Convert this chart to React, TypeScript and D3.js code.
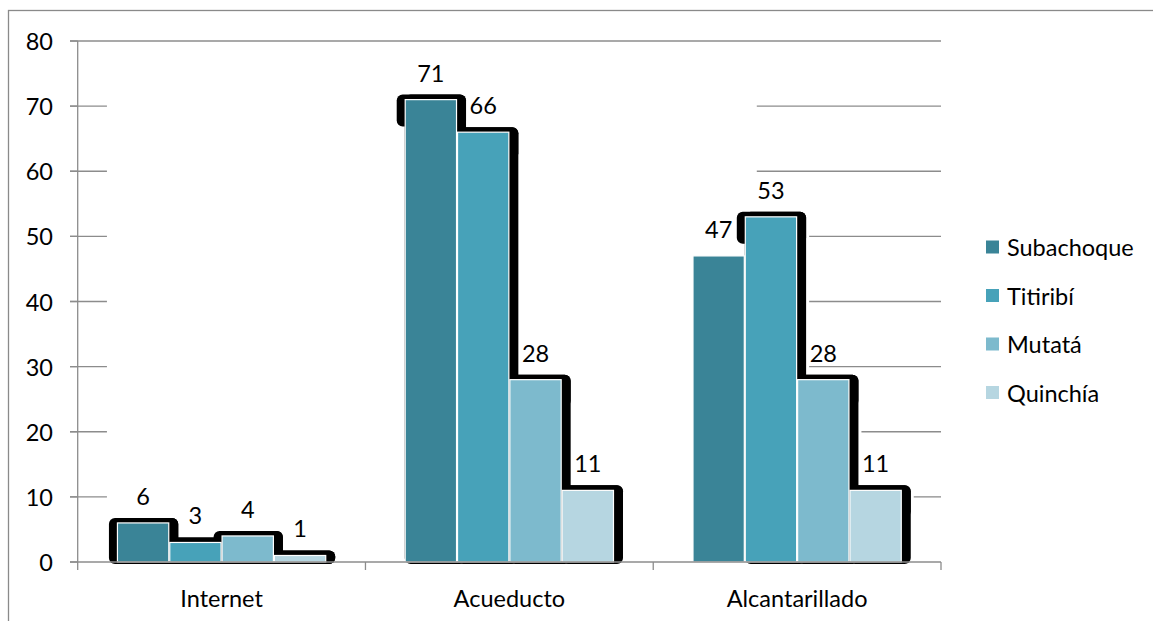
import React from "react";
import * as d3 from "d3";

const categories = ["Internet", "Acueducto", "Alcantarillado"];
const seriesNames = ["Subachoque", "Titiribí", "Mutatá", "Quinchía"];
const subachoque = [6, 71, 47];
const titiribi = [3, 66, 53];
const mutata = [4, 28, 28];
const quinchia = [1, 11, 11];
const yTicks = [0, 10, 20, 30, 40, 50, 60, 70, 80];
const colors = ["#3a8497", "#47a2b9", "#7dbacd", "#b6d6e1"];

// bars whose shadow does not show in the original
const noShadow = [["Alcantarillado", "Subachoque"]];
// where each gridline shows again on the right after the hidden stretch
const gridResume = [
  [70, "Alcantarillado", "Subachoque"],
  [60, "Alcantarillado", "Subachoque"],
  [50, "Alcantarillado", "Titiribí"],
  [40, "Alcantarillado", "Titiribí"],
  [30, "Alcantarillado", "Titiribí"],
  [20, "Alcantarillado", "Mutatá"],
  [10, "Alcantarillado", "Quinchía"],
];

const FONT = "Lato, 'Open Sans', sans-serif";
const FS = 23.5;

export default function App() {
  const width = 1153;
  const height = 621;
  const left = 77.7;
  const right = 941;
  const top = 41;
  const bottom = 562;

  const values = [subachoque, titiribi, mutata, quinchia];

  const x0 = d3.scaleBand().domain(categories).range([left, right]).padding(0);
  const x1 = d3
    .scaleBand()
    .domain(seriesNames)
    .range([0, x0.bandwidth()])
    .paddingInner(0)
    .paddingOuter(0.75);
  const y = d3.scaleLinear().domain([0, 80]).range([bottom, top]);

  const bars = [];
  categories.forEach((c, ci) => {
    seriesNames.forEach((s, si) => {
      const v = values[si][ci];
      const bx = (x0(c) as number) + (x1(s) as number);
      bars.push({ c, s, si, v, x: bx, w: x1.bandwidth(), y: y(v) });
    });
  });

  const barRight = (c, s) => (x0(c) as number) + (x1(s) as number) + x1.bandwidth();
  const firstShadowLeft = (x0(categories[0]) as number) + (x1(seriesNames[0]) as number) - 10;

  return (
    <svg
      width={width}
      height={height}
      style={{ position: "absolute", left: 0, top: 0, background: "#fff" }}
      fontFamily={FONT}
    >
      <rect x={8.5} y={10.5} width={1160} height={640} fill="#fff" stroke="#8a8a8a" strokeWidth={1.3} />

      {/* gridlines */}
      <line x1={70} x2={right} y1={y(80)} y2={y(80)} stroke="#8c8c8c" strokeWidth={1.3} />
      {gridResume.map(([v, c, s]) => (
        <g key={"g" + v}>
          <line x1={70} x2={firstShadowLeft} y1={y(v as number)} y2={y(v as number)} stroke="#8c8c8c" strokeWidth={1.3} />
          <line
            x1={barRight(c, s) + 12}
            x2={right}
            y1={y(v as number)}
            y2={y(v as number)}
            stroke="#8c8c8c"
            strokeWidth={1.3}
          />
        </g>
      ))}

      {/* y axis */}
      <line x1={left} x2={left} y1={top} y2={bottom} stroke="#8c8c8c" strokeWidth={1.3} />
      {yTicks.map((t) => (
        <g key={"t" + t}>
          <line x1={70} x2={left} y1={y(t)} y2={y(t)} stroke="#8c8c8c" strokeWidth={1.3} />
          <text x={53} y={y(t)} textAnchor="end" dominantBaseline="central" fontSize={FS} fill="#000">
            {t}
          </text>
        </g>
      ))}

      {/* shadows */}
      {bars
        .filter((b) => !noShadow.some(([c, s]) => c === b.c && s === b.s))
        .map((b, i) => {
          const sTop = b.y - 5;
          const full = bottom + 2 - sTop;
          const leftH = full < 60 ? full : 32;
          return (
            <g key={"sh" + i}>
              <rect x={b.x - 8} y={sTop} width={b.w + 17} height={leftH} rx={6} fill="#000" />
              <rect x={b.x} y={sTop} width={b.w + 9} height={full} rx={6} fill="#000" />
            </g>
          );
        })}

      {/* bars */}
      {bars.map((b, i) => (
        <rect
          key={"b" + i}
          x={b.x + 0.5}
          y={b.y}
          width={b.w - 1}
          height={bottom - b.y}
          fill={colors[b.si]}
          stroke="#fff"
          strokeWidth={1.2}
        />
      ))}

      {/* x axis */}
      <line x1={70} x2={right} y1={bottom} y2={bottom} stroke="#8c8c8c" strokeWidth={1.5} />
      {[...categories.map((c) => x0(c) as number), right].map((tx, i) => (
        <line key={"xt" + i} x1={tx} x2={tx} y1={bottom} y2={bottom + 8} stroke="#8c8c8c" strokeWidth={1.3} />
      ))}
      {categories.map((c) => (
        <text
          key={"c" + c}
          x={(x0(c) as number) + x0.bandwidth() / 2}
          y={598}
          textAnchor="middle"
          dominantBaseline="central"
          fontSize={FS}
          fill="#000"
        >
          {c}
        </text>
      ))}

      {/* value labels */}
      {bars.map((b, i) => (
        <text
          key={"l" + i}
          x={b.x + b.w / 2}
          y={b.y - 27}
          textAnchor="middle"
          dominantBaseline="central"
          fontSize={FS}
          fill="#000"
        >
          {b.v}
        </text>
      ))}

      {/* legend */}
      {seriesNames.map((s, i) => (
        <g key={"lg" + s} transform={`translate(986, ${247 + i * 48.5})`}>
          <rect x={0} y={-6.5} width={13} height={13} fill={colors[i]} />
          <text x={21} y={0} dominantBaseline="central" fontSize={FS} fill="#000">
            {s}
          </text>
        </g>
      ))}
    </svg>
  );
}
